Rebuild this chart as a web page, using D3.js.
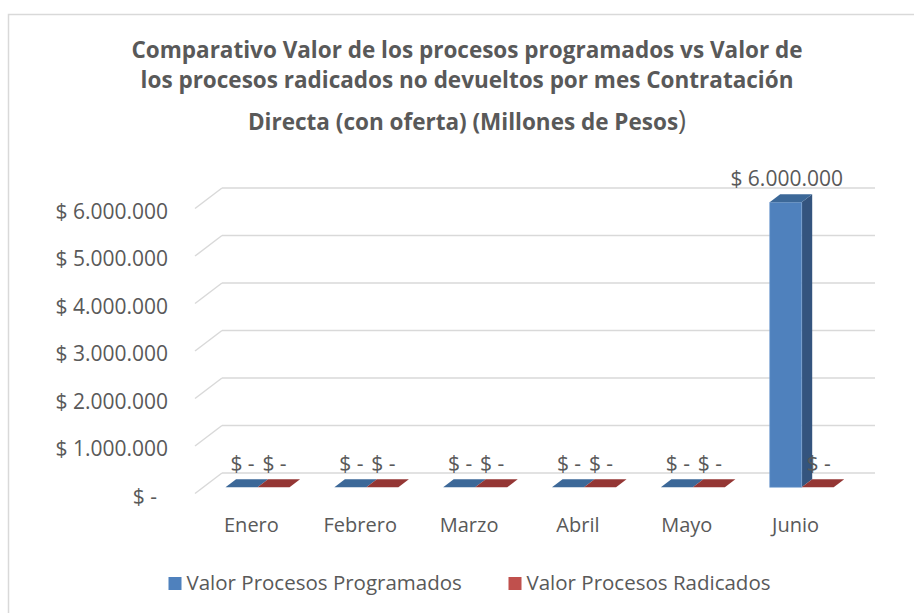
<!DOCTYPE html>
<html lang="es">
  <head>
    <meta charset="UTF-8" />
    <title>Comparativo Contratación Directa</title>
    <script src="https://cdnjs.cloudflare.com/ajax/libs/d3/7.8.5/d3.min.js"></script>
    <style>
      body {
        margin: 0;
        background: #fff;
        font-family: "Open Sans", sans-serif;
      }
      text {
        fill: #595959;
      }
    </style>
  </head>
  <body>
    <div id="chart"></div>
    <script>
      // data
      const months = ["Enero", "Febrero", "Marzo", "Abril", "Mayo", "Junio"];
      const programados = [0, 0, 0, 0, 0, 6000000];
      const radicados = [0, 0, 0, 0, 0, 0];
      const seriesNames = ["Valor Procesos Programados", "Valor Procesos Radicados"];
      const yTicks = [0, 1000000, 2000000, 3000000, 4000000, 5000000, 6000000];
      const titleLines = [
        "Comparativo Valor de los procesos programados vs Valor de",
        "los procesos radicados no devueltos por mes Contratación",
        "Directa (con oferta) (Millones de Pesos",
      ];

      const width = 914;
      const height = 613;

      // colours per series: front, side, top
      const palette = [
        { front: "#4f81bd", side: "#34547e", top: "#3c6898" },
        { front: "#c0504d", side: "#8c3836", top: "#943634" },
      ];

      const svg = d3
        .select("#chart")
        .append("svg")
        .attr("width", width)
        .attr("height", height);

      // chart border
      svg
        .append("rect")
        .attr("x", 8.5)
        .attr("y", 14.5)
        .attr("width", 920)
        .attr("height", 620)
        .attr("fill", "none")
        .attr("stroke", "#d9d9d9")
        .attr("stroke-width", 1.5);

      // title, one text per line
      const titleY = [57.5, 88, 130];
      titleLines.forEach((line, i) => {
        const t = svg
          .append("text")
          .attr("x", 467)
          .attr("y", titleY[i])
          .attr("text-anchor", "middle")
          .style("font-weight", "bold")
          .style("font-size", "22.5px")
          .text(line);
        if (i === 2) {
          t.append("tspan")
            .style("font-weight", "normal")
            .style("font-size", "27px")
            .text(")");
        }
      });

      // 3D-ish projection: x/y on back wall, z goes 0 (back) -> 1 (front)
      const depthX = -27;
      const depthY = 20.5;

      const x = d3
        .scaleBand()
        .domain(months)
        .range([222, 875])
        .padding(0);

      const xInner = d3
        .scaleBand()
        .domain([0, 1])
        .range([0, x.bandwidth()])
        .paddingOuter(0.7)
        .paddingInner(0);

      const y = d3.scaleLinear().domain([0, 6000000]).range([473, 188]);

      const proj = (px, v, z) => [px + depthX * z, y(v) + depthY * z];

      const fmt = (d) =>
        d === 0 ? "$ -" : "$ " + d3.format(",")(d).replace(/,/g, ".");

      // gridlines
      const grid = svg.append("g");
      yTicks.forEach((t) => {
        const back0 = proj(x.range()[0], t, 0);
        const front0 = proj(x.range()[0], t, 1);
        grid
          .append("line")
          .attr("x1", back0[0])
          .attr("y1", back0[1])
          .attr("x2", x.range()[1])
          .attr("y2", back0[1])
          .attr("stroke", "#d9d9d9")
          .attr("stroke-width", 1.5);
        grid
          .append("line")
          .attr("x1", front0[0])
          .attr("y1", front0[1])
          .attr("x2", back0[0])
          .attr("y2", back0[1])
          .attr("stroke", "#d9d9d9")
          .attr("stroke-width", 1.5);
        svg
          .append("text")
          .attr("x", front0[0] - 27 - (t === 0 ? 11 : 0))
          .attr("y", front0[1] + 2)
          .attr("text-anchor", "end")
          .attr("dominant-baseline", "central")
          .style("font-size", "21px")
          .text(fmt(t));
      });

      // category labels
      months.forEach((m) => {
        const p = proj(x(m) + x.bandwidth() / 2, 0, 1);
        svg
          .append("text")
          .attr("x", p[0] + 2)
          .attr("y", 532)
          .attr("text-anchor", "middle")
          .style("font-size", "20px")
          .text(m);
      });

      // bars
      const zFront = 0.7;
      const zBack = 0.31;
      const series = [programados, radicados];
      const barsG = svg.append("g");
      const labelsG = svg.append("g");
      months.forEach((m, i) => {
        series.forEach((vals, s) => {
          const v = vals[i];
          const x0 = x(m) + xInner(s);
          const x1 = x0 + xInner.bandwidth();
          const ftl = proj(x0, v, zFront);
          const ftr = proj(x1, v, zFront);
          const fbr = proj(x1, 0, zFront);
          const fbl = proj(x0, 0, zFront);
          const btl = proj(x0, v, zBack);
          const btr = proj(x1, v, zBack);
          const bbr = proj(x1, 0, zBack);
          const c = palette[s];
          if (v > 0) {
            barsG
              .append("path")
              .attr("d", d3.line()([ftr, btr, bbr, fbr]) + "Z")
              .attr("fill", c.side);
            barsG
              .append("path")
              .attr("d", d3.line()([ftl, ftr, fbr, fbl]) + "Z")
              .attr("fill", c.front)
              .attr("stroke", "#7aa3d4")
              .attr("stroke-width", 0.6);
          }
          barsG
            .append("path")
            .attr("d", d3.line()([ftl, ftr, btr, btl]) + "Z")
            .attr("fill", c.top);

          labelsG
            .append("text")
            .attr("x", (ftl[0] + ftr[0]) / 2 + 1)
            .attr("y", btl[1] - 8)
            .attr("text-anchor", "middle")
            .style("font-size", "21px")
            .text(fmt(v));
        });
      });

      // legend
      const legend = svg.append("g");
      const legendX = [168.5, 508.5];
      seriesNames.forEach((name, s) => {
        legend
          .append("rect")
          .attr("x", legendX[s])
          .attr("y", 577)
          .attr("width", 13)
          .attr("height", 13)
          .attr("fill", palette[s].front);
        legend
          .append("text")
          .attr("x", legendX[s] + 18)
          .attr("y", 590)
          .style("font-size", "20.5px")
          .text(name);
      });
    </script>
  </body>
</html>
